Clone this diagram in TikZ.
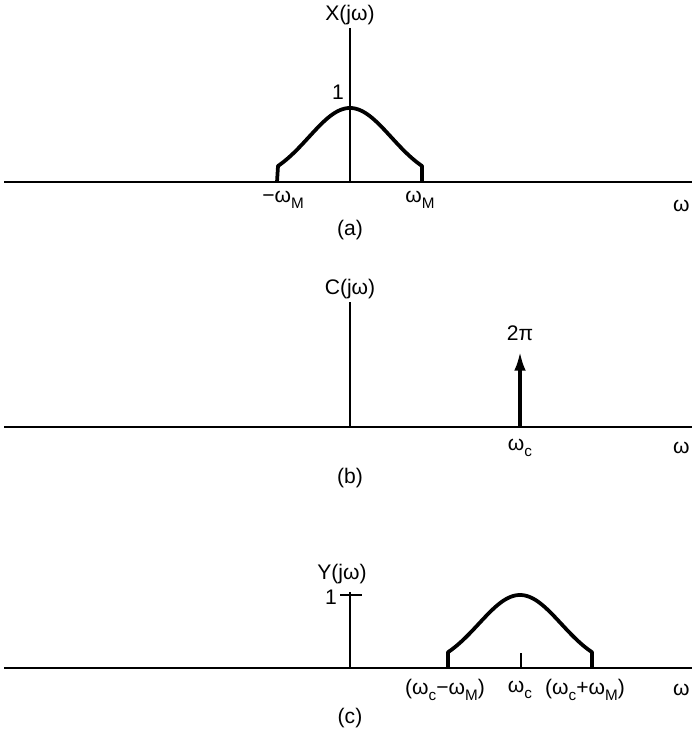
\documentclass[tikz,border=0pt]{standalone}
\usepackage{fontspec}
\setmainfont{Liberation Sans}
\usetikzlibrary{arrows.meta}

\newcommand{\lowsub}[1]{\raisebox{-0.5ex}{\fontsize{13}{15}\selectfont #1}}

\tikzset{
  axis/.style={line width=1.3pt},
  curve/.style={line width=3.2pt, line join=round},
  lbl/.style={font=\fontsize{18}{21}\selectfont, inner sep=1pt},
}

\begin{document}
\begin{tikzpicture}[x=0.03cm, y=-0.03cm, >={Latex[length=16pt,width=10pt]}]
  \useasboundingbox (0,0) rectangle (691,734);

  % Panel (a): spectrum of x(t)
  \draw[axis] (4,182) -- (700,182);
  \draw[axis] (350,28) -- (350,182);
  \draw[curve] (277,182) -- plot[domain=-72:72, samples=80] ({350+\x}, {182-74*exp(-\x*\x/3388)}) -- (422,182);
  \node[lbl] (xlab) at (350,15) {X(jω)};
  \node[lbl] (xone) at (338,92) {1};
  \node[lbl] (xmm) at (283,200) {−ω\lowsub{M}};
  \node[lbl] (xpm) at (420,200) {ω\lowsub{M}};
  \node[lbl, anchor=east] (xw) at (691,206) {ω};
  \node[lbl] (capa) at (350,230) {(a)};

  % Panel (b): carrier impulse
  \draw[axis] (4,427) -- (700,427);
  \draw[axis] (350,302) -- (350,427);
  \draw[->, line width=2.6pt] (520,427) -- (520,352);
  \node[lbl] (clab) at (350,289) {C(jω)};
  \node[lbl] (ctwo) at (520,333) {2π};
  \node[lbl] (cwc) at (520,448) {ω\lowsub{c}};
  \node[lbl, anchor=east] (cw) at (691,448) {ω};
  \node[lbl] (capb) at (350,478) {(b)};

  % Panel (c): shifted spectrum
  \draw[axis] (4,668) -- (700,668);
  \draw[axis] (350,592) -- (350,668);
  \draw[axis] (340,595) -- (362,595);
  \draw[axis] (521,653) -- (521,668);
  \draw[curve] (448,668) -- plot[domain=-72:72, samples=80] ({520+\x}, {668-73*exp(-\x*\x/3388)}) -- (592,668);
  \node[lbl] (ylab) at (342,574) {Y(jω)};
  \node[lbl] (yone) at (331,597) {1};
  \node[lbl] (ylo) at (445,690) {(ω\lowsub{c}−ω\lowsub{M})};
  \node[lbl] (ywc) at (520,690) {ω\lowsub{c}};
  \node[lbl] (yhi) at (585,690) {(ω\lowsub{c}+ω\lowsub{M})};
  \node[lbl, anchor=east] (yw) at (691,690) {ω};
  \node[lbl] (capc) at (350,718) {(c)};
\end{tikzpicture}
\end{document}
